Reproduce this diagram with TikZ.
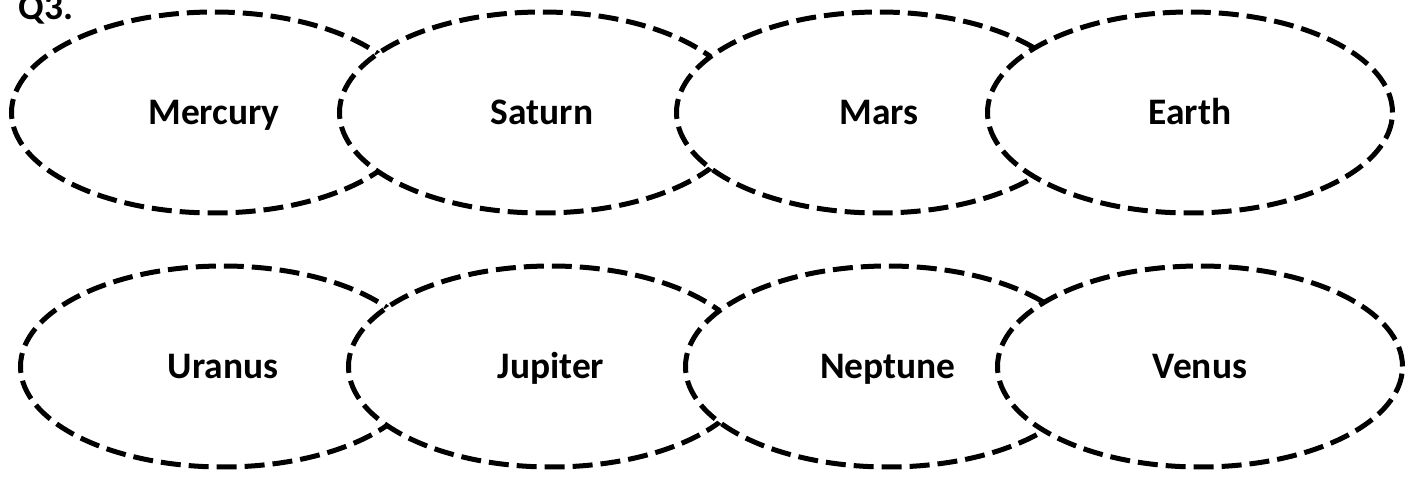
\documentclass[tikz,border=0pt]{standalone}
\usepackage{fontspec}
\setmainfont{Carlito}
\usetikzlibrary{shapes.geometric, positioning}
\tikzset{
  % ellisse tratteggiata di un pianeta
  planet/.style={ellipse, draw=black, fill=white, line width=0.1cm,
    dash pattern=on 0.4cm off 0.16cm, minimum width=8.1cm, minimum height=4.02cm,
    inner sep=0pt, font=\fontsize{21.3}{24}\selectfont\bfseries,
    text height=0.47cm, text depth=0pt},
  % titolo dell'esercizio
  qlbl/.style={font=\fontsize{21.3}{24}\selectfont\bfseries, inner sep=0pt},
}
\begin{document}
\begin{tikzpicture}
  \useasboundingbox (0,0) rectangle (28.36,9.58);
  \node[qlbl, anchor=base west] (q) at (0.36,9.18) {Q3.};
  % prima riga
  \foreach \n/\x/\t in {merc/4.28/Mercury, sat/10.84/Saturn, mars/17.58/Mars, earth/23.80/Earth}
    \node[planet] (\n) at (\x,7.33) {\t};
  % seconda riga
  \foreach \n/\x/\t in {ura/4.46/Uranus, jup/11.02/Jupiter, nep/17.76/Neptune, ven/24.00/Venus}
    \node[planet] (\n) at (\x,2.25) {\t};
\end{tikzpicture}
\end{document}
